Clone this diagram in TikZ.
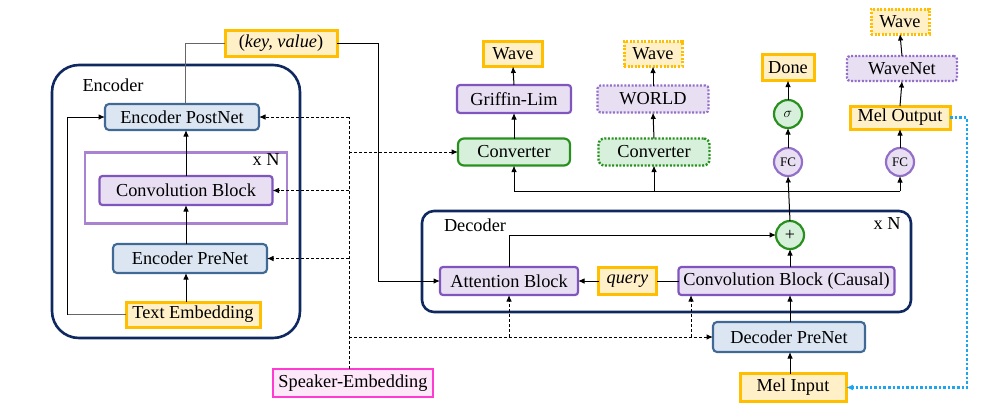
\documentclass[tikz,border=0pt]{standalone}
\usepackage{fontspec}
\setmainfont{Liberation Serif}
\usetikzlibrary{arrows.meta,calc}
\definecolor{navy}{RGB}{16,40,96}
\definecolor{bluefill}{RGB}{220,230,242}
\definecolor{blueline}{RGB}{65,105,150}
\definecolor{purpfill}{RGB}{232,223,243}
\definecolor{purpline}{RGB}{128,86,190}
\definecolor{purplight}{RGB}{170,130,210}
\definecolor{yelfill}{RGB}{255,240,200}
\definecolor{yelline}{RGB}{255,190,0}
\definecolor{grnfill}{RGB}{215,240,220}
\definecolor{grnline}{RGB}{40,145,30}
\definecolor{pinkfill}{RGB}{253,232,250}
\definecolor{pinkline}{RGB}{255,60,210}
\definecolor{dotblue}{RGB}{30,165,240}
\begin{document}
\begin{tikzpicture}[x=1pt,y=-1pt,
  every node/.style={font=\fontsize{18.3pt}{20pt}\selectfont, inner sep=0pt, outer sep=0pt},
  blueblk/.style={rounded corners=4pt, fill=bluefill, draw=blueline, line width=2.1pt},
  purpblk/.style={rounded corners=3pt, fill=purpfill, draw=purpline, line width=2.2pt},
  yelblk/.style={fill=yelfill, draw=yelline, line width=3pt},
  grnblk/.style={rounded corners=6pt, fill=grnfill, draw=grnline, line width=2.2pt},
  pinkblk/.style={fill=pinkfill, draw=pinkline, line width=2.6pt},
  container/.style={draw=navy, line width=2.6pt},
  dotb/.style={dash pattern=on 2pt off 1.6pt},
  circ/.style={circle, minimum size=28pt, line width=2.2pt},
  arr/.style={-{Latex[length=6.5pt,width=5.5pt]}, line width=1pt},
  dsh/.style={line width=0.9pt, dash pattern=on 3pt off 2pt},
  lbl/.style={anchor=center}
]
\useasboundingbox (0,0) rectangle (983,410);

% ---------- Encoder ----------
\node[container, rounded corners=27pt, minimum width=248pt, minimum height=273pt] (enc) at (176,201.5) {};
\node[lbl] (encL) at (113,85) {Encoder};
\node[draw=purplight, line width=2.4pt, minimum width=202pt, minimum height=71pt] (convN) at (186,188) {};
\node[lbl] (convNL) at (266,160) {x N};
\node[blueblk, minimum width=154pt, minimum height=26pt] (postnet) at (182,117) {Encoder PostNet};
\node[purpblk, minimum width=173pt, minimum height=29pt] (convblk) at (186,190.5) {Convolution Block};
\node[blueblk, minimum width=154pt, minimum height=29pt] (prenet) at (190,258.5) {Encoder PreNet};
\node[yelblk, minimum width=134pt, minimum height=25pt] (textemb) at (193,314.5) {Text Embedding};

\draw[arr] (convblk.south |- textemb.north) -- (convblk.south |- prenet.south);
\draw[arr] (convblk.south |- prenet.north) -- (convblk.south);
\draw[arr] (convblk.north) -- (convblk.north |- postnet.south);
\coordinate (rx) at (67,313);
\draw[gray!80!black, line width=1pt] (textemb.west) -- (textemb.west -| rx);
\draw[arr] (textemb.west -| rx) |- (postnet.west);

% ---------- key/value ----------
\node[yelblk, minimum width=112pt, minimum height=26pt] (kv) at (281,43) {(\textit{key, value})};
\coordinate (kvx) at (185,43);
\coordinate (kvr) at (378,43);
\draw[gray!80!black, line width=1pt] (kvx |- postnet.north) -- (kvx) -- (kv.west);

% ---------- Speaker embedding ----------
\node[pinkblk, minimum width=160pt, minimum height=28pt] (spk) at (353,383) {Speaker-Embedding};
\coordinate (sx) at (349,117);

% ---------- Decoder ----------
\node[container, rounded corners=12pt, minimum width=489pt, minimum height=101pt] (dec) at (666.5,261.5) {};
\node[lbl] (decL) at (475,225) {Decoder};
\node[lbl] (decNL) at (887,224) {x N};
\node[purpblk, minimum width=138pt, minimum height=28pt] (attn) at (509,281) {Attention Block};
\node[yelblk, minimum width=58pt, minimum height=27pt] (query) at (627.5,281) {\textit{query}};
\node[purpblk, minimum width=216pt, minimum height=28pt] (convc) at (786.5,281) {Convolution Block (Causal)};
\node[circ, draw=grnline, fill=grnfill] (plus) at (790,235) {\fontsize{18pt}{18pt}\selectfont +};
\node[blueblk, minimum width=152pt, minimum height=30pt] (decpre) at (789,337) {Decoder PreNet};
\node[yelblk, minimum width=106pt, minimum height=28pt] (melin) at (793,387.5) {Mel Input};

\draw[arr] (kv.east) -- (kvr) |- (attn.west);
\draw[arr] (plus |- convc.north) -- (plus.south);
\draw[line width=1pt] (convc.west) -- (query.east);
\draw[arr] (query.west) -- (attn.east);
\draw[arr] (attn.north) |- (plus.west);
\draw[arr] (plus |- decpre.north) -- (plus |- convc.south);
\draw[arr] (plus |- melin.north) -- (plus |- decpre.south);

% speaker dashed lines
\draw[dsh] (spk.north -| sx) -- (sx);
\draw[dsh, arr] (sx) -- (postnet.east);
\draw[dsh, arr] (sx |- convblk.east) -- (convblk.east);
\draw[dsh, arr] (sx |- prenet.east) -- (prenet.east);
\coordinate (cbx) at (691,0);
\draw[dsh, arr] (sx |- decpre.west) -- (decpre.west);
\draw[dsh, arr] (attn.south |- decpre.west) -- (attn.south);
\draw[dsh, arr] (cbx |- decpre.west) -- (cbx |- convc.south);

% ---------- Outputs ----------
\node[grnblk, minimum width=112pt, minimum height=27pt] (conv1) at (514,152) {Converter};
\node[purpblk, minimum width=114pt, minimum height=28pt] (griffin) at (514,99) {Griffin-Lim};
\node[yelblk, minimum width=59pt, minimum height=25pt] (wave1) at (513,54) {Wave};

\node[grnblk, dotb, line width=2.4pt, minimum width=111pt, minimum height=27pt] (conv2) at (654,152) {Converter};
\node[purpblk, draw=purpline!85, dotb, line width=2.2pt, minimum width=111pt, minimum height=27pt] (world) at (653,99) {WORLD};
\node[yelblk, dotb, minimum width=58pt, minimum height=25pt] (wave2) at (653,54) {Wave};

\node[circ, draw=purpline!85, fill=purpfill] (fc1) at (788,162) {\fontsize{13pt}{13pt}\selectfont FC};
\node[circ, draw=grnline, fill=grnfill] (sigma) at (788,114) {\fontsize{14pt}{14pt}\selectfont $\sigma$};
\node[yelblk, minimum width=52pt, minimum height=26pt] (done) at (788,67.5) {Done};

\node[circ, draw=purpline!85, fill=purpfill] (fc2) at (900,162) {\fontsize{13pt}{13pt}\selectfont FC};
\node[yelblk, minimum width=100pt, minimum height=23pt] (melout) at (900,117.5) {Mel Output};
\node[purpblk, draw=purpline!85, dotb, line width=2.2pt, minimum width=110pt, minimum height=25pt] (wavenet) at (902,68.5) {WaveNet};
\node[yelblk, dotb, minimum width=58pt, minimum height=25pt] (wave3) at (900,21.5) {Wave};

\draw[dsh, arr] (sx |- conv1.west) -- (conv1.west);

\coordinate (hb) at (0,191);
\draw[line width=1pt] (conv1.south |- hb) -- (fc2.south |- hb);
\draw[arr] (conv1.south |- hb) -- (conv1.south);
\draw[arr] (conv2.south |- hb) -- (conv2.south);
\draw[arr] (fc2.south |- hb) -- (fc2.south);
\draw[arr] (plus.north) -- (fc1.south);

\draw[arr] (conv1.north) -- (griffin.south);
\draw[arr] (griffin.north) -- (wave1.south);
\draw[arr] (conv2.north) -- (world.south);
\draw[arr] (world.north) -- (wave2.south);
\draw[arr] (fc1.north) -- (sigma.south);
\draw[arr] (sigma.north) -- (done.south);
\draw[arr] (fc2.north) -- (melout.south);
\draw[arr] (melout.north) -- (wavenet.south);
\draw[arr] (wavenet.north) -- (wave3.south);

\coordinate (bx) at (967,117.5);
\draw[-{Latex[length=7pt,width=6pt,fill=dotblue]}, draw=dotblue, line width=2.6pt, dash pattern=on 2.6pt off 2pt] (melout.east) -- (bx) |- (melin.east);
\end{tikzpicture}
\end{document}
